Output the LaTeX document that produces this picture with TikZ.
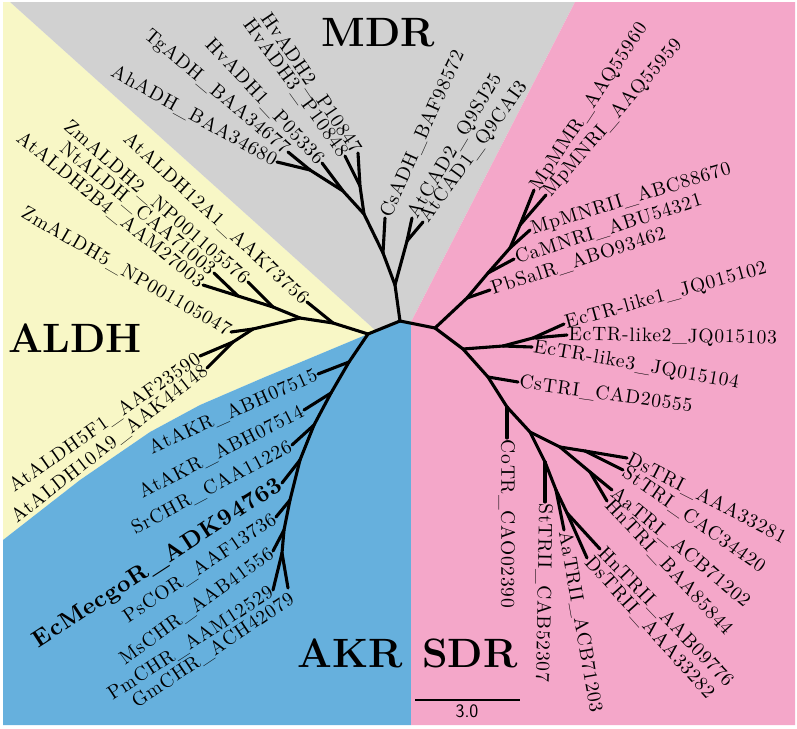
\documentclass[tikz,border=0pt]{standalone}
\usepackage{fontspec}
\usepackage{tikz}
\newfontfamily\labfont{lmroman10-regular}[Extension=.otf,BoldFont=lmroman10-bold,LetterSpace=4]
\definecolor{mdrgrey}{RGB}{209,209,209}
\definecolor{aldhyellow}{RGB}{248,247,198}
\definecolor{akrblue}{RGB}{102,176,221}
\definecolor{sdrpink}{RGB}{244,167,201}

\begin{document}
\begin{tikzpicture}[x=1pt,y=-1pt]
\tikzstyle{branch}=[draw, line width=3.1pt, line cap=round, line join=round]
\tikzstyle{leaf}=[inner sep=1.5pt, font=\labfont\fontsize{19.5}{22}\selectfont]
\tikzstyle{leafbold}=[inner sep=1.5pt, font=\labfont\bfseries\fontsize{23.5}{25}\selectfont]
\tikzstyle{clade}=[inner sep=0pt, font=\bfseries\fontsize{41}{44}\selectfont]
\useasboundingbox (0,0) rectangle (797,728);
% background sectors
\fill[aldhyellow] (3,2) -- (10,2) -- (375,330) -- (368,334) -- (265,377) -- (200,405)
  -- (150,432) -- (80,480) -- (3,540) -- cycle;
\fill[mdrgrey] (10,2) -- (575,2) -- (411,322) -- (400,320) -- (375,330) -- cycle;
\fill[akrblue] (3,540) -- (80,480) -- (150,432) -- (200,405) -- (265,377) -- (368,334)
  -- (400,320) -- (411,322) -- (411,725) -- (3,725) -- cycle;
\fill[sdrpink] (575,2) -- (795,2) -- (795,725) -- (411,725) -- (411,322) -- cycle;

% inner nodes
\coordinate (m0) at (400,321);
\coordinate (m1) at (395,285);
\coordinate (m2) at (383,253);
\coordinate (mC) at (407,241);
\coordinate (m3) at (364,214);
\coordinate (mHv) at (360,186);
\coordinate (m4) at (343,191);
\coordinate (mTA) at (310,170);
\coordinate (n0) at (368,334);
\coordinate (a1) at (333,323);
\coordinate (a2) at (300,318);
\coordinate (a3) at (273,307);
\coordinate (a4) at (238,296);
\coordinate (a5) at (253,329);
\coordinate (a6) at (233,342);
\coordinate (k1) at (349,362);
\coordinate (k2) at (331,393);
\coordinate (k3) at (314,425);
\coordinate (k4) at (300,460);
\coordinate (k5) at (290,500);
\coordinate (k6) at (284,530);
\coordinate (k7) at (282,553);
\coordinate (s0) at (435,328);
\coordinate (s1) at (467,298);
\coordinate (s2) at (488,273);
\coordinate (s3) at (510,248);
\coordinate (s4) at (520,225);
\coordinate (e0) at (463,349);
\coordinate (e1) at (503,346);
\coordinate (e2) at (533,338);
\coordinate (c0) at (488,377);
\coordinate (c1) at (507,407);
\coordinate (c2) at (530,432);
\coordinate (t0) at (560,447);
\coordinate (t1) at (585,451);
\coordinate (t2) at (590,472);
\coordinate (u0) at (545,462);
\coordinate (u1) at (556,490);
\coordinate (u2) at (567,513);

% MDR leaves
\node[leaf, rotate=-29, anchor=east] (AhADH) at (277,162) {AhADH\_BAA34680};
\node[leaf, rotate=-40, anchor=east] (TgADH) at (288,152) {TgADH\_BAA34677};
\node[leaf, rotate=-47, anchor=east] (HvADH1) at (322,163) {HvADH1\_P05336};
\node[leaf, rotate=-54, anchor=east] (HvADH3) at (345,156) {HvADH3\_P10848};
\node[leaf, rotate=-56, anchor=east] (HvADH2) at (358,153) {HvADH2\_P10847};
\node[leaf, rotate=66, anchor=west] (CsADH) at (385,218) {CsADH\_BAF98572};
\node[leaf, rotate=59, anchor=west] (AtCAD2) at (412,218) {AtCAD2\_Q9SJ25};
\node[leaf, rotate=54, anchor=west] (AtCAD1) at (423,222) {AtCAD1\_Q9CAI3};
% ALDH leaves
\node[leaf, rotate=-42.5, anchor=east] (AtALDH12A1) at (307,302) {AtALDH12A1\_AAK73756};
\node[leaf, rotate=-41, anchor=east] (ZmALDH2) at (248,282) {ZmALDH2\_NP001105576};
\node[leaf, rotate=-40, anchor=east] (NtALDH) at (214,273) {NtALDH\_CAA71003};
\node[leaf, rotate=-39, anchor=east] (AtALDH2B4) at (203,285) {AtALDH2B4\_AAM27003};
\node[leaf, rotate=-30, anchor=east] (ZmALDH5) at (231,332) {ZmALDH5\_NP001105047};
\node[leaf, rotate=35, anchor=east] (AtALDH5F1) at (200,356) {AtALDH5F1\_AAF23590};
\node[leaf, rotate=38, anchor=east] (AtALDH10A9) at (207,368) {AtALDH10A9\_AAK44148};
% AKR leaves
\node[leaf, rotate=24, anchor=east] (AtAKR15) at (318,374) {AtAKR\_ABH07515};
\node[leaf, rotate=27, anchor=east] (AtAKR14) at (304,410) {AtAKR\_ABH07514};
\node[leaf, rotate=28, anchor=east] (SrCHR) at (292,445) {SrCHR\_CAA11226};
\node[leafbold, rotate=33, anchor=east] (EcMecgoR) at (282,483) {EcMecgoR\_ADK94763};
\node[leaf, rotate=34, anchor=east] (PsCOR) at (276,517) {PsCOR\_AAF13736};
\node[leaf, rotate=36, anchor=east] (MsCHR) at (273,551) {MsCHR\_AAB41556};
\node[leaf, rotate=33, anchor=east] (PmCHR) at (273,590) {PmCHR\_AAM12529};
\node[leaf, rotate=34, anchor=north east] (GmCHR) at (288,588) {GmCHR\_ACH42079};
% SDR leaves
\node[leaf, rotate=56.5, anchor=west] (MpMMR) at (534,190) {MpMMR\_AAQ55960};
\node[leaf, rotate=49, anchor=west] (MpMNRI) at (546,195) {MpMNRI\_AAQ55959};
\node[leaf, rotate=17, anchor=west] (MpMNRII) at (530,230) {MpMNRII\_ABC88670};
\node[leaf, rotate=17.6, anchor=west] (CaMNRI) at (514,259) {CaMNRI\_ABU54321};
\node[leaf, rotate=18, anchor=west] (PbSalR) at (490,290) {PbSalR\_ABO93462};
\node[leaf, rotate=15.5, anchor=west] (EcTR1) at (564,324) {EcTR-like1\_JQ015102};
\node[leaf, rotate=-1, anchor=west] (EcTR2) at (567,335) {EcTR-like2\_JQ015103};
\node[leaf, rotate=-10, anchor=west] (EcTR3) at (532,347) {EcTR-like3\_JQ015104};
\node[leaf, rotate=-8, anchor=west] (CsTRI) at (518,382) {CsTRI\_CAD20555};
\node[leaf, rotate=-90, anchor=west] (CoTR) at (507,438) {CoTR\_CAO02390};
\node[leaf, rotate=-91, anchor=west] (StTRII) at (545,502) {StTRII\_CAB52307};
\node[leaf, rotate=-80, anchor=west] (AaTRII) at (564,530) {AaTRII\_ACB71203};
\node[leaf, rotate=-48, anchor=west] (DsTRII) at (587,558) {DsTRII\_AAA33282};
\node[leaf, rotate=-46, anchor=west] (HnTRII) at (600,549) {HnTRII\_AAB09776};
\node[leaf, rotate=-47, anchor=west] (HnTRI) at (607,501) {HnTRI\_BAA85844};
\node[leaf, rotate=-40, anchor=west] (AaTRI) at (612,490) {AaTRI\_ACB71202};
\node[leaf, rotate=-35, anchor=west] (StTRI) at (623,470) {StTRI\_CAC34420};
\node[leaf, rotate=-27, anchor=west] (DsTRI) at (627,458) {DsTRI\_AAA33281};

% clade names
\node[clade, anchor=base] (MDR) at (378,46) {MDR};
\node[clade, anchor=base] (ALDH) at (75,352) {ALDH};
\node[clade, anchor=base] (AKR) at (350,667) {AKR};
\node[clade, anchor=base] (SDR) at (470,667) {SDR};

% scale bar
\coordinate (sb1) at (415,700);
\coordinate (sb2) at (520,700);
\draw[line width=1.7pt] (sb1) -- (sb2);
\node[inner sep=0pt, anchor=north, font=\sffamily\fontsize{19}{21}\selectfont] (sbl) at (467,705) {3.0};

\path[branch]
  (m0) edge (n0) (m0) edge (s0) (m0) edge (m1)
  (m1) edge (m2) (m1) edge (mC)
  (mC) edge (AtCAD2.west) (mC) edge (AtCAD1.west)
  (m2) edge (CsADH.west) (m2) edge (m3)
  (m3) edge (mHv) (mHv) edge (HvADH2.east) (mHv) edge (HvADH3.east)
  (m3) edge (m4) (m4) edge (HvADH1.east) (m4) edge (mTA)
  (mTA) edge (TgADH.east) (mTA) edge (AhADH.east)
  (n0) edge (a1) (a1) edge (AtALDH12A1.east) (a1) edge (a2)
  (a2) edge (a3) (a3) edge (ZmALDH2.east) (a3) edge (a4)
  (a4) edge (NtALDH.east) (a4) edge (AtALDH2B4.east)
  (a2) edge (a5) (a5) edge (ZmALDH5.east) (a5) edge (a6)
  (a6) edge (AtALDH5F1.east) (a6) edge (AtALDH10A9.east)
  (n0) edge (k1) (k1) edge (AtAKR15.east) (k1) edge (k2)
  (k2) edge (AtAKR14.east) (k2) edge (k3)
  (k3) edge (SrCHR.east) (k3) edge (k4)
  (k4) edge (EcMecgoR.east) (k4) edge (k5)
  (k5) edge (PsCOR.east) (k5) edge (k6)
  (k6) edge (MsCHR.east) (k6) edge (k7)
  (k7) edge (PmCHR.east) (k7) edge (GmCHR.north east)
  (s0) edge (s1) (s1) edge (PbSalR.west) (s1) edge (s2)
  (s2) edge (CaMNRI.west) (s2) edge (s3)
  (s3) edge (MpMNRII.west) (s3) edge (s4)
  (s4) edge (MpMMR.west) (s4) edge (MpMNRI.west)
  (s0) edge (e0) (e0) edge (e1) (e1) edge (EcTR3.west) (e1) edge (e2)
  (e2) edge (EcTR2.west) (e2) edge (EcTR1.west)
  (e0) edge (c0) (c0) edge (CsTRI.west) (c0) edge (c1)
  (c1) edge (CoTR.west) (c1) edge (c2)
  (c2) edge (t0) (t0) edge (t1) (t1) edge (DsTRI.west) (t1) edge (StTRI.west)
  (t0) edge (t2) (t2) edge (AaTRI.west) (t2) edge (HnTRI.west)
  (c2) edge (u0) (u0) edge (StTRII.west) (u0) edge (u1)
  (u1) edge (AaTRII.west) (u1) edge (u2)
  (u2) edge (HnTRII.west) (u2) edge (DsTRII.west);
\end{tikzpicture}
\end{document}
